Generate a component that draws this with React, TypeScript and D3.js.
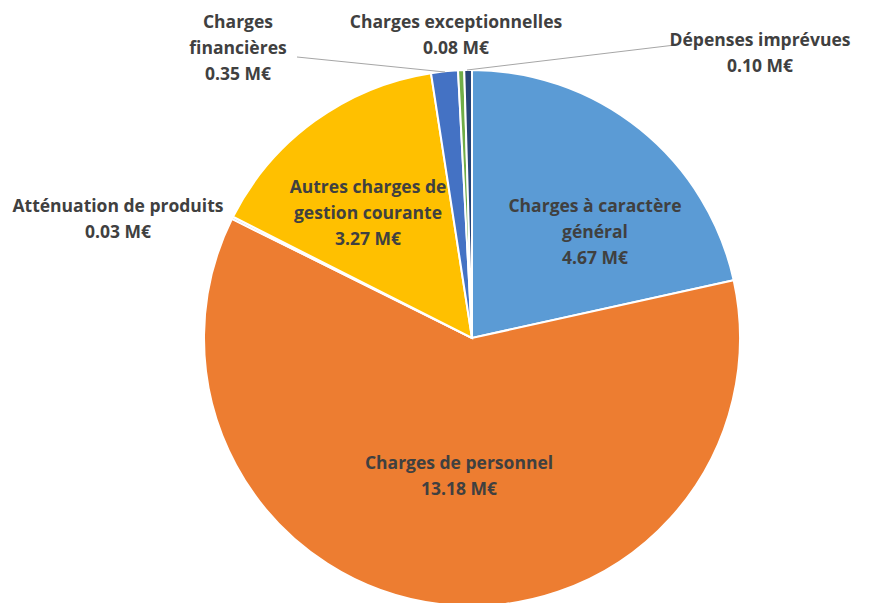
import * as d3 from "d3";

const categories = [
  "Charges à caractère général",
  "Charges de personnel",
  "Atténuation de produits",
  "Autres charges de gestion courante",
  "Charges financières",
  "Charges exceptionnelles",
  "Dépenses imprévues",
];
const values = [4.67, 13.18, 0.03, 3.27, 0.35, 0.08, 0.1];
const colors = ["#5B9BD5", "#ED7D31", "#A5A5A5", "#FFC000", "#4472C4", "#70AD47", "#264478"];
// label text lines (without value)
const labelLines = [
  ["Charges à caractère", "général"],
  ["Charges de personnel"],
  ["Atténuation de produits"],
  ["Autres charges de", "gestion courante"],
  ["Charges", "financières"],
  ["Charges exceptionnelles"],
  ["Dépenses imprévues"],
];

const W = 870;
const H = 603;
const cx = 472;
const cy = 338;
const R = 268;

// label anchors (center x, first line baseline y) and optional leader line
const labelPos: { x: number; y: number; line?: [number, number][] }[] = [
  { x: 595, y: 212 },
  { x: 459, y: 469 },
  { x: 118, y: 212 },
  { x: 368, y: 193 },
  { x: 238, y: 28, line: [[297, 57], [445, 72]] },
  { x: 456, y: 28 },
  { x: 760, y: 46, line: [[675, 45], [467, 70]] },
];

export default function App() {
  const pie = d3
    .pie<number>()
    .sort(null)
    .value((d) => d);
  const arcs = pie(values);
  const arc = d3.arc<d3.PieArcDatum<number>>().innerRadius(0).outerRadius(R);
  const lh = 26;

  return (
    <svg
      width={W}
      height={H}
      style={{ position: "absolute", left: 0, top: 0, background: "#fff" }}
      fontFamily="'Open Sans', sans-serif"
    >
      <g transform={`translate(${cx},${cy})`}>
        {arcs.map((a, i) => (
          <path
            key={categories[i]}
            d={arc(a) || ""}
            fill={colors[i]}
            stroke="#fff"
            strokeWidth={2}
          />
        ))}
      </g>
      {labelPos.map((p, i) =>
        p.line ? (
          <polyline
            key={"l" + i}
            points={p.line.map((q) => q.join(",")).join(" ")}
            fill="none"
            stroke="#A6A6A6"
            strokeWidth={1}
          />
        ) : null
      )}
      {labelPos.map((p, i) => {
        const lines = [...labelLines[i], `${values[i].toFixed(2)} M€`];
        return (
          <text
            key={"t" + i}
            textAnchor="middle"
            fontSize={17.5}
            fontWeight="bold"
            fill="#404040"
          >
            {lines.map((s, j) => (
              <tspan key={j} x={p.x} y={p.y + j * lh}>
                {s}
              </tspan>
            ))}
          </text>
        );
      })}
    </svg>
  );
}
